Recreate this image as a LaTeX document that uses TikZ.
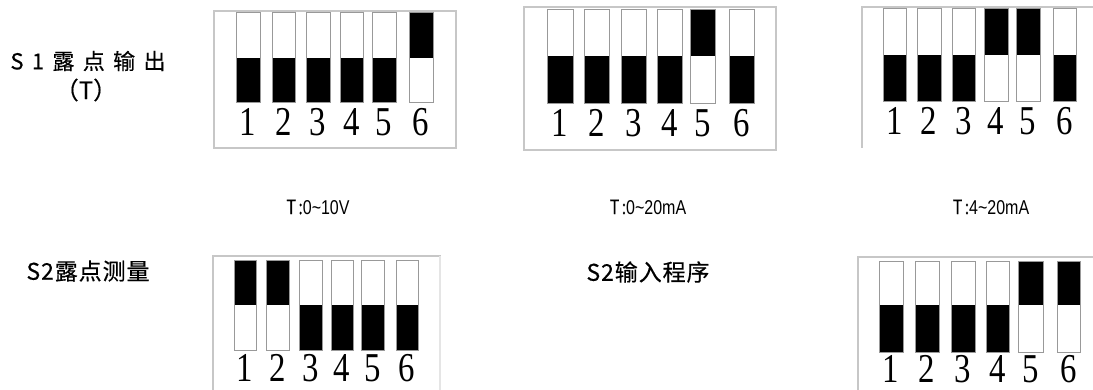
\documentclass[tikz,border=0pt]{standalone}
\usepackage{graphicx}
\usepackage{fontspec}
\setmainfont{Liberation Serif}
\newfontfamily\cjk[FakeBold=0.4]{Noto Sans CJK SC}
\newfontfamily\cjksp[LetterSpace=38,FakeBold=0.4]{Noto Sans CJK SC}
\newfontfamily\cjkls[LetterSpace=4,FakeBold=0.4]{Noto Sans CJK SC}
\newfontfamily\lsans{Liberation Sans}
\tikzset{
  box/.style={draw=black!22, line width=1.2pt},
  swbox/.style={draw=black!40, line width=0.9pt},
  digit/.style={font=\fontsize{41}{41}\selectfont, inner sep=0pt},
  lbl/.style={font=\cjkls\fontsize{23}{25}\selectfont, inner sep=0pt},
  rng/.style={font=\lsans\fontsize{20}{22}\selectfont, inner sep=0pt}
}
% #1 x-left, #2 x-right, #3 top, #4 split, #5 bottom, #6 u/d (black up/down), #7 digit y, #8 digit
\newcommand\dipsw[8]{%
  \if#6u\fill[black] (#1,#3) rectangle (#2,#4);\else\fill[black] (#1,#4) rectangle (#2,#5);\fi
  \draw[swbox] (#1,#3) rectangle (#2,#5);
  \node[digit] at ({(#1+#2)/2},#7) {\scalebox{0.8}[1]{#8}};
}
\newcommand\rngtext[1]{\scalebox{0.8}[1]{{\cjk T}\hspace{3pt}{\cjk :}#1}}
\begin{document}
\begin{tikzpicture}[x=1pt,y=-1pt]
\useasboundingbox (0,0) rectangle (1093,390);
% labels
\node[lbl, font=\cjksp\fontsize{22}{24}\selectfont] (s1) at (88,61) {S1露点输出};
\node[lbl, font=\cjk\fontsize{24}{26}\selectfont] (s1t) at (86,90) {（T）};
\node[lbl] (s2a) at (88,271) {S2露点测量};
\node[lbl] (s2b) at (648,272) {S2输入程序};
\node[rng] (r1) at (318,207) {\rngtext{0\string~10V}};
\node[rng] (r2) at (648,207) {\rngtext{0\string~20mA}};
\node[rng] (r3) at (991,207) {\rngtext{4\string~20mA}};
% block 1
\draw[box] (214,11) rectangle (456,148);
\dipsw{236}{260}{12}{58}{102}{d}{122}{1}
\dipsw{272}{295}{12}{58}{102}{d}{122}{2}
\dipsw{306}{330}{12}{58}{102}{d}{122}{3}
\dipsw{340}{363}{12}{58}{102}{d}{122}{4}
\dipsw{372}{396}{12}{58}{102}{d}{122}{5}
\dipsw{409}{433}{12}{58}{102}{u}{122}{6}
% block 2
\draw[box] (524,7) rectangle (776,150);
\dipsw{547}{573}{9}{56}{103}{d}{123}{1}
\dipsw{584}{609}{9}{56}{103}{d}{123}{2}
\dipsw{621}{646}{9}{56}{103}{d}{123}{3}
\dipsw{657}{682}{9}{56}{103}{d}{123}{4}
\dipsw{690}{715}{9}{56}{103}{u}{123}{5}
\dipsw{729}{754}{9}{56}{103}{d}{123}{6}
% block 3
\draw[box] (862,148) -- (862,7) -- (1093,7);
\dipsw{883}{906}{8}{55}{101}{d}{121}{1}
\dipsw{917}{941}{8}{55}{101}{d}{121}{2}
\dipsw{952}{975}{8}{55}{101}{d}{121}{3}
\dipsw{984}{1008}{8}{55}{101}{u}{121}{4}
\dipsw{1016}{1040}{8}{55}{101}{u}{121}{5}
\dipsw{1053}{1076}{8}{55}{101}{d}{121}{6}
% block 4
\draw[box] (213,390) -- (213,256) -- (441,256);
\draw[box, draw=black!10] (440,256) -- (440,390);
\dipsw{234}{256}{260}{305}{350}{u}{368}{1}
\dipsw{266}{289}{260}{305}{350}{u}{368}{2}
\dipsw{299}{322}{260}{305}{350}{d}{368}{3}
\dipsw{331}{353}{260}{305}{350}{d}{368}{4}
\dipsw{361}{384}{260}{305}{350}{d}{368}{5}
\dipsw{396}{418}{260}{305}{350}{d}{368}{6}
% block 5
\draw[box] (858,390) -- (858,257) -- (1093,257);
\dipsw{879}{903}{261}{305}{352}{d}{369}{1}
\dipsw{915}{939}{261}{305}{352}{d}{369}{2}
\dipsw{951}{975}{261}{305}{352}{d}{369}{3}
\dipsw{986}{1009}{261}{305}{352}{d}{369}{4}
\dipsw{1018}{1043}{261}{305}{352}{u}{369}{5}
\dipsw{1057}{1080}{261}{305}{352}{u}{369}{6}
\end{tikzpicture}
\end{document}
